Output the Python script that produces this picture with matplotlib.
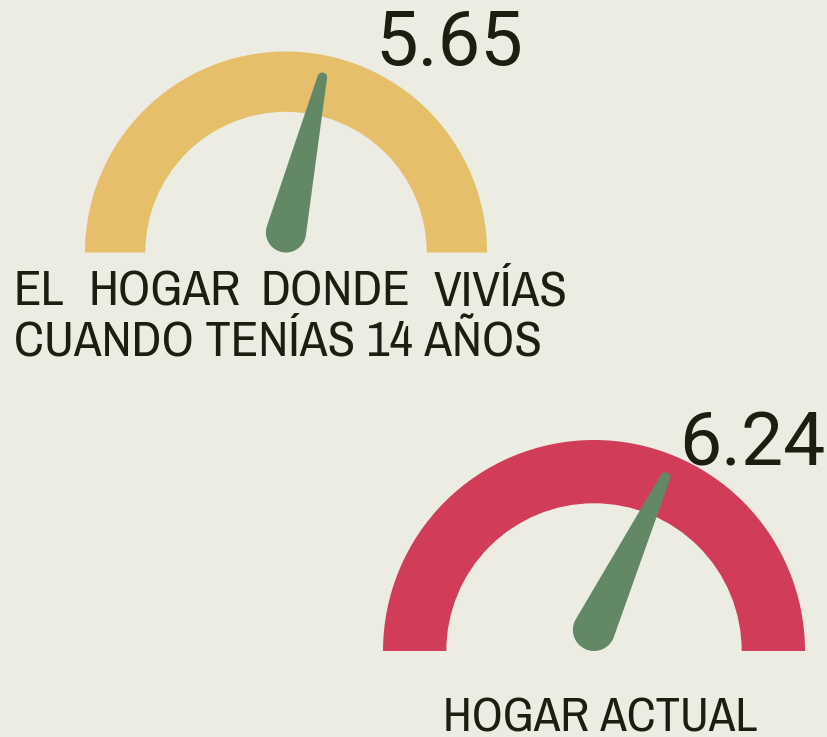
import numpy as np
import matplotlib
matplotlib.use("Agg")
import matplotlib.pyplot as plt
from matplotlib.patches import Wedge, Polygon

# ---- data ----
values = [5.65, 6.24]
value_labels = ["5.65", "6.24"]
vmax = 10
line1_words = ["EL", "HOGAR", "DONDE", "VIVÍAS"]
line2_text = "CUANDO TENÍAS 14 AÑOS"
label_bottom = "HOGAR ACTUAL"
arc_colors = ["#E6BF6A", "#D13D59"]

BG = "#EDECE3"
NEEDLE = "#638866"
INK = "#1C1E10"
LABEL_FONT = ["Archivo Narrow", "Roboto", "DejaVu Sans"]
NUM_FONT = ["Roboto", "DejaVu Sans"]

W, H = 828, 737
fig = plt.figure(figsize=(W / 100, H / 100), dpi=100)
fig.patch.set_facecolor(BG)
ax = fig.add_axes([0, 0, 1, 1])
ax.set_xlim(0, W)
ax.set_ylim(0, H)
ax.set_aspect("equal")
ax.axis("off")
renderer = fig.canvas.get_renderer()


def Y(yi):
    return H - yi


def hull(pts):
    pts = sorted(map(tuple, pts))
    def cross(o, a, b):
        return (a[0] - o[0]) * (b[1] - o[1]) - (a[1] - o[1]) * (b[0] - o[0])
    lower, upper = [], []
    for p in pts:
        while len(lower) >= 2 and cross(lower[-2], lower[-1], p) <= 0:
            lower.pop()
        lower.append(p)
    for p in reversed(pts):
        while len(upper) >= 2 and cross(upper[-2], upper[-1], p) <= 0:
            upper.pop()
        upper.append(p)
    return np.array(lower[:-1] + upper[:-1])


def gauge(cx, cy, R, value, color):
    ax.add_patch(Wedge((cx, cy), R, 0, 180, width=R * 0.30, facecolor=color,
                       edgecolor="none"))
    theta = np.radians(180 - 180 * value / vmax)
    L = 0.89 * R
    rb = 0.10 * R
    rt = 0.024 * R
    t = np.linspace(0, 2 * np.pi, 120)
    base = np.c_[cx + rb * np.cos(t), cy + rb + rb * np.sin(t)]
    tx, ty = cx + L * np.cos(theta), cy + L * np.sin(theta)
    tip = np.c_[tx + rt * np.cos(t), ty + rt * np.sin(t)]
    ax.add_patch(Polygon(hull(np.vstack([base, tip])), closed=True,
                         facecolor=NEEDLE, edgecolor="none"))


def fit_text(x, y, s, target_w, family, weight="normal", size0=30):
    t = ax.text(x, y, s, fontsize=size0, family=family, weight=weight,
                color=INK, ha="left", va="baseline")
    w = t.get_window_extent(renderer).width
    size = size0 * target_w / w
    t.set_fontsize(size)
    return t, size


# gauges
gauge(286, Y(252.5), 201, values[0], arc_colors[0])
gauge(594, Y(651), 211, values[1], arc_colors[1])

# big numbers
fit_text(375, Y(65), value_labels[0], 148, NUM_FONT)
fit_text(679, Y(466), value_labels[1], 146, NUM_FONT)

# labels
_, lsize = fit_text(14, Y(356), line2_text, 528, LABEL_FONT, weight="medium")
for word, xw in zip(line1_words, [14, 89, 261, 434]):
    ax.text(xw, Y(305), word, fontsize=lsize, family=LABEL_FONT, weight="medium",
            color=INK, ha="left", va="baseline")
fit_text(443, Y(732), label_bottom, 314, LABEL_FONT, weight="medium")

fig.savefig("out.png", dpi=100, facecolor=BG)
